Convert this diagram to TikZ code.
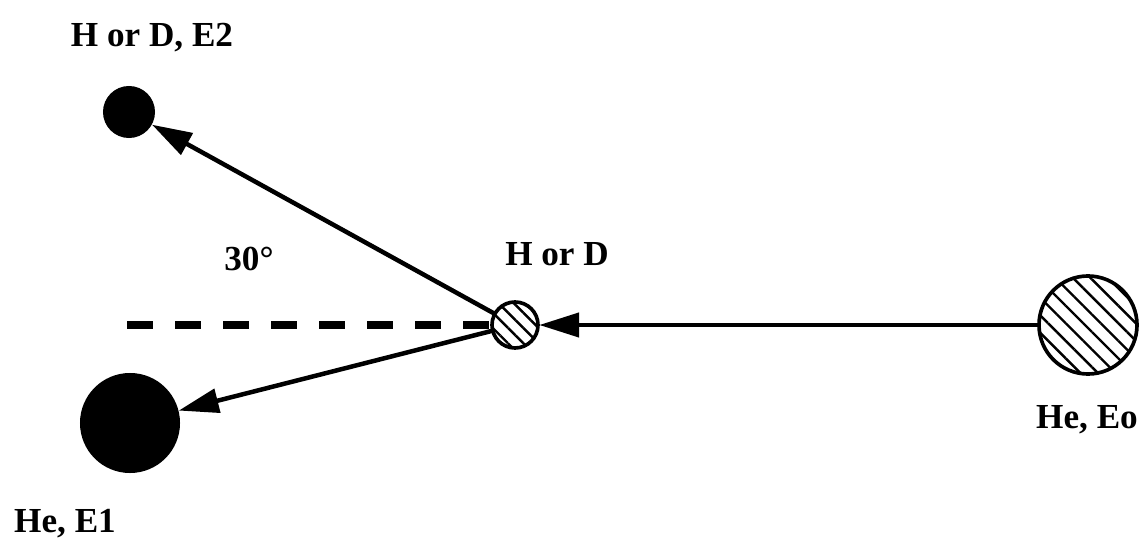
\documentclass[tikz,border=0pt]{standalone}
\usepackage{fontspec}
\setmainfont{Liberation Serif}
\usepackage{tikz}
\usetikzlibrary{arrows.meta, patterns.meta}

\begin{document}
\begin{tikzpicture}[
    x=0.025cm, y=-0.025cm,
    ball/.style={circle, draw=black, line width=2.6pt, inner sep=0pt},
    hatched/.style={ball, pattern={Lines[angle=-45, distance=#1, line width=0.06cm]}},
    solid ball/.style={circle, fill=black, inner sep=0pt},
    track/.style={line width=3.2pt, -{Triangle[length=1cm, width=0.6cm]}},
    label/.style={anchor=base, font=\bfseries\fontsize{25}{30}\selectfont}
]
    \useasboundingbox (0,0) rectangle (1144,538);

    % Particles
    \node[hatched=0.31cm, minimum size=2.45cm] (proj) at (1088,325) {};
    \node[hatched=0.27cm, minimum size=1.15cm] (tgt) at (515,325) {};
    \node[solid ball, minimum size=1.3cm] (recoil) at (129,112) {};
    \node[solid ball, minimum size=2.5cm] (scat) at (130,423) {};

    % Incoming and outgoing tracks
    \draw[track] (proj) -- (tgt);
    \draw[track] (tgt) -- (recoil);
    \draw[track] (tgt) -- (scat);

    % Reference line
    \coordinate (refstart) at (127,325);
    \draw[line width=5pt, dash pattern=on 0.65cm off 0.55cm] (refstart) -- (tgt.west);

    % Labels
    \node[label] (lrecoil) at (152,47) {H or D, E2};
    \node[label] (ltgt) at (557,265) {H or D};
    \node[label] (langle) at (249,270) {30°};
    \node[label] (lproj) at (1087,428) {He, Eo};
    \node[label] (lscat) at (65,532) {He, E1};
\end{tikzpicture}
\end{document}
